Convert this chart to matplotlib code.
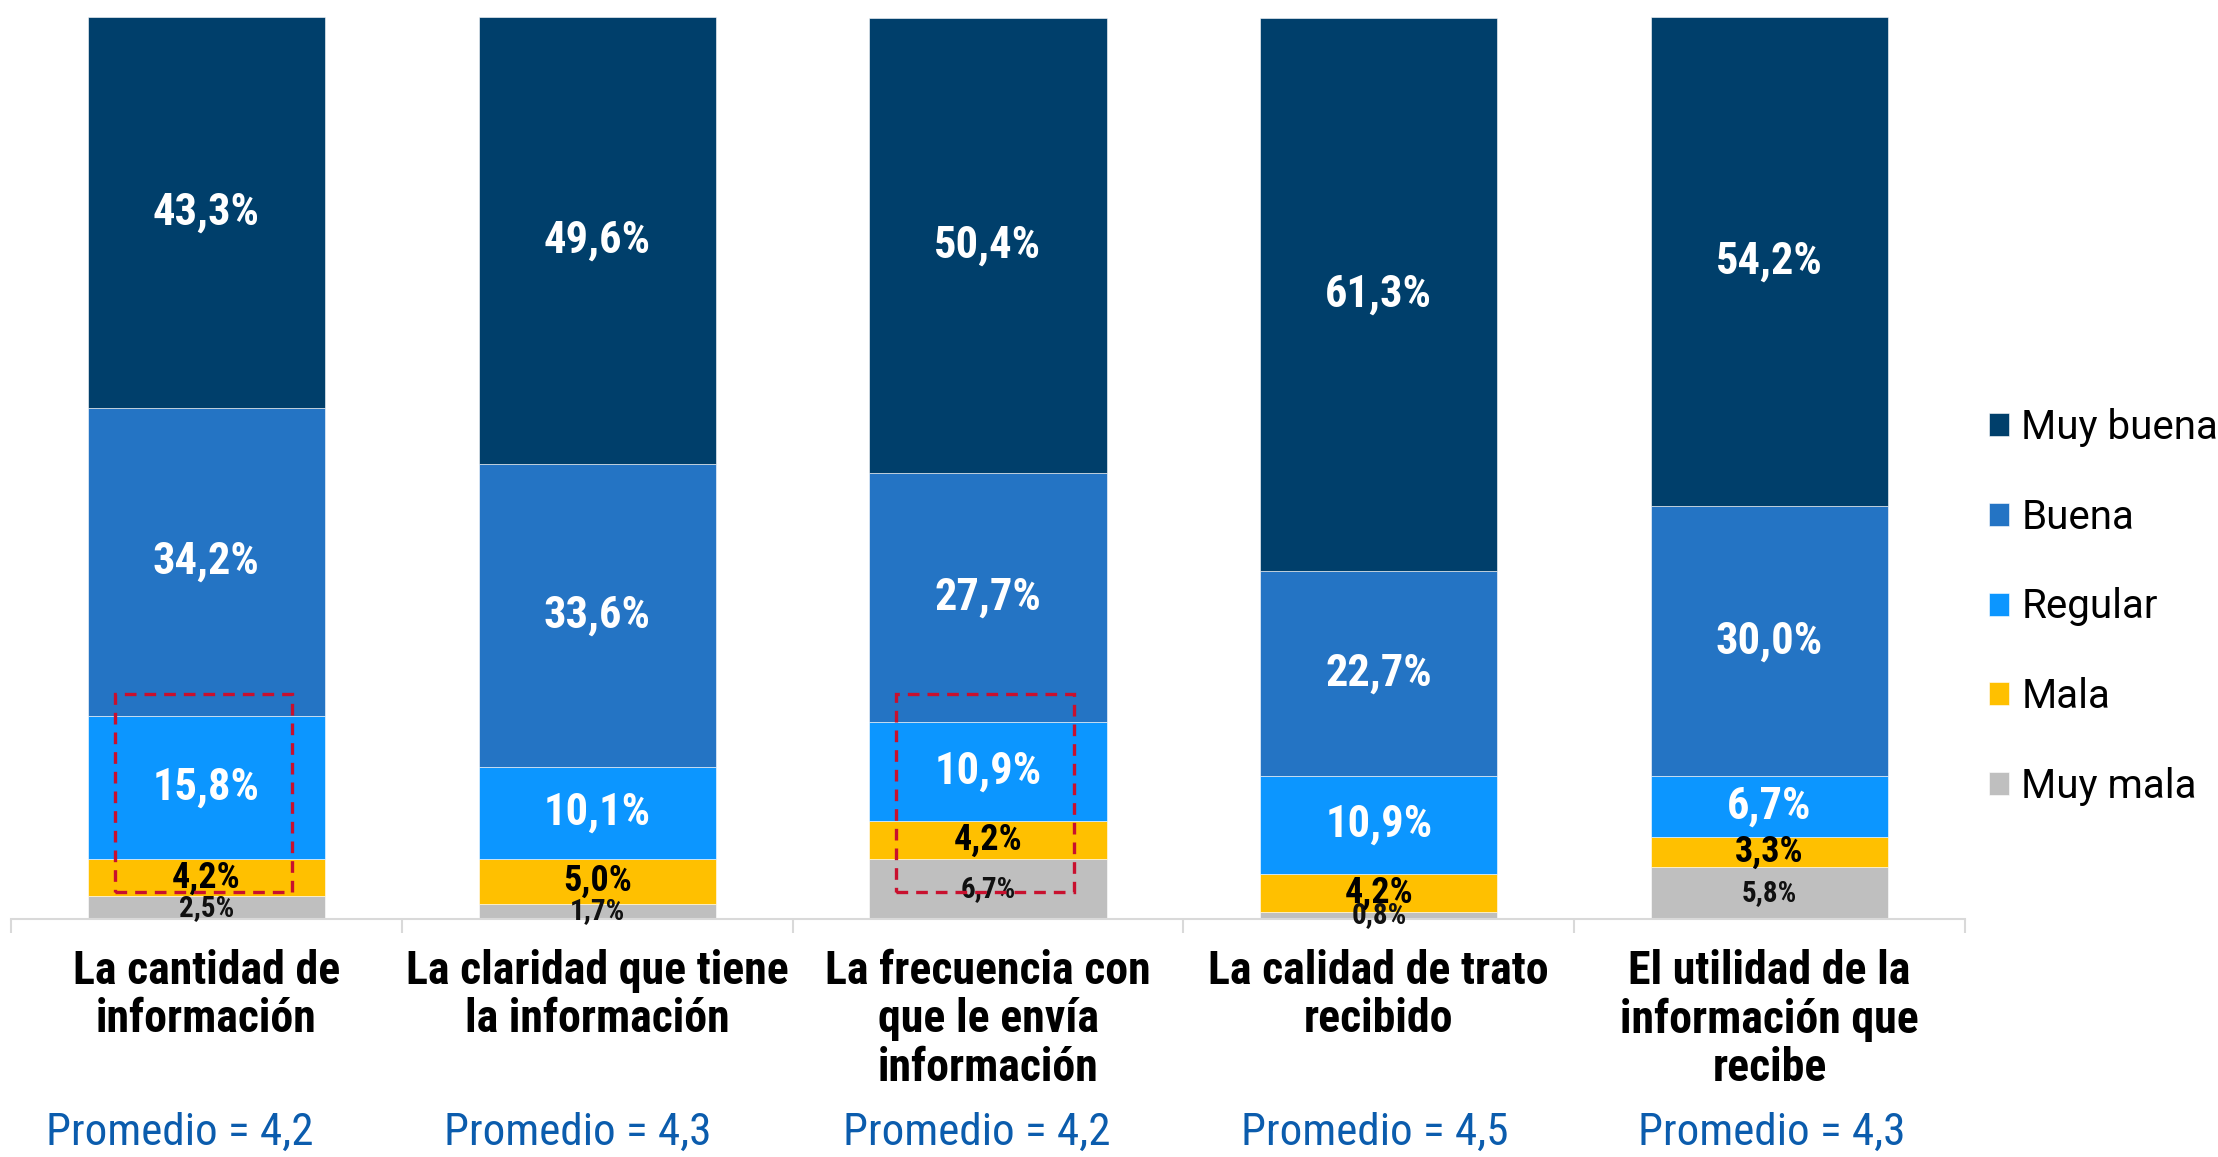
import matplotlib
matplotlib.use("Agg")
import matplotlib.pyplot as plt
from matplotlib.patches import Rectangle
import numpy as np

# ---------------- data ----------------
categories = [
    "La cantidad de\ninformación",
    "La claridad que tiene\nla información",
    "La frecuencia con\nque le envía\ninformación",
    "La calidad de trato\nrecibido",
    "El utilidad de la\ninformación que\nrecibe",
]
promedios = ["4,2", "4,3", "4,2", "4,5", "4,3"]
series_names = ["Muy mala", "Mala", "Regular", "Buena", "Muy buena"]
muy_mala = [2.5, 1.7, 6.7, 0.8, 5.8]
mala = [4.2, 5.0, 4.2, 4.2, 3.3]
regular = [15.8, 10.1, 10.9, 10.9, 6.7]
buena = [34.2, 33.6, 27.7, 22.7, 30.0]
muy_buena = [43.3, 49.6, 50.4, 61.3, 54.2]
highlighted = [0, 2]

# ---------------- style ----------------
colors = ["#BFBFBF", "#FFC000", "#0C96FF", "#2474C4", "#003F6B"]
label_colors = ["#111111", "#000000", "white", "white", "white"]
label_sizes = [21, 26, 32, 32, 32]
COND = ["Roboto Condensed", "Liberation Sans Narrow", "Roboto", "DejaVu Sans"]

W, H = 2218, 1157
fig = plt.figure(figsize=(W / 100, H / 100), dpi=100)
ax = fig.add_axes([11 / W, 1 - 919 / H, (1965 - 11) / W, (919 - 17) / H])

series = [muy_mala, mala, regular, buena, muy_buena]
x = np.arange(len(categories))
bottom = np.zeros(len(categories))
handles = []
for vals, name, c, lc, ls in zip(series, series_names, colors, label_colors, label_sizes):
    vals = np.array(vals)
    bars = ax.bar(x, vals, width=0.607, bottom=bottom, color=c, edgecolor="white",
                  linewidth=0.4, label=name)
    handles.append(bars)
    for xi, v, b in zip(x, vals, bottom):
        ax.text(xi, b + v / 2, f"{v:.1f}%".replace(".", ","), ha="center", va="center",
                color=lc, fontsize=ls, fontweight="bold", family=COND)
    bottom = bottom + vals

# dashed highlight boxes
for i in highlighted:
    ax.add_patch(Rectangle((i - 0.235, 3.0), 0.455, 22.0, fill=False, edgecolor="#C8102E",
                           linewidth=2.4, linestyle=(0, (3.5, 2.4)), zorder=5, clip_on=False))

ax.set_xlim(-0.5, len(categories) - 0.5)
ax.set_ylim(0, 100)
for s in ["top", "right", "left"]:
    ax.spines[s].set_visible(False)
ax.spines["bottom"].set_color("#D9D9D9")
ax.spines["bottom"].set_linewidth(1.5)
ax.set_yticks([])
ax.set_xticks(np.arange(-0.5, len(categories), 1.0))
ax.set_xticklabels([])
ax.tick_params(axis="x", length=10, width=1.5, color="#D9D9D9", direction="out")

# category labels and averages
prom_offsets = [-0.068, -0.05, -0.03, -0.01, 0.005]
for xi, cat, p, off in zip(x, categories, promedios, prom_offsets):
    ax.text(xi, -3.3, cat, ha="center", va="top", fontsize=33, fontweight="bold",
            family=COND, linespacing=1.13, clip_on=False)
    ax.text(xi + off, -23.7, f"Promedio = {p}", ha="center", va="center", fontsize=32.5,
            color="#0B5CAD", family=COND, clip_on=False)

# legend
leg = fig.legend(handles[::-1], series_names[::-1], loc="center left",
                 bbox_to_anchor=(1989 / W, 1 - 607 / H), frameon=False,
                 prop={"family": ["Roboto", "DejaVu Sans"], "size": 29},
                 handlelength=0.5, handleheight=0.5, handletextpad=0.3,
                 labelspacing=1.26, borderpad=0, borderaxespad=0)

fig.savefig("out.png", dpi=100)
